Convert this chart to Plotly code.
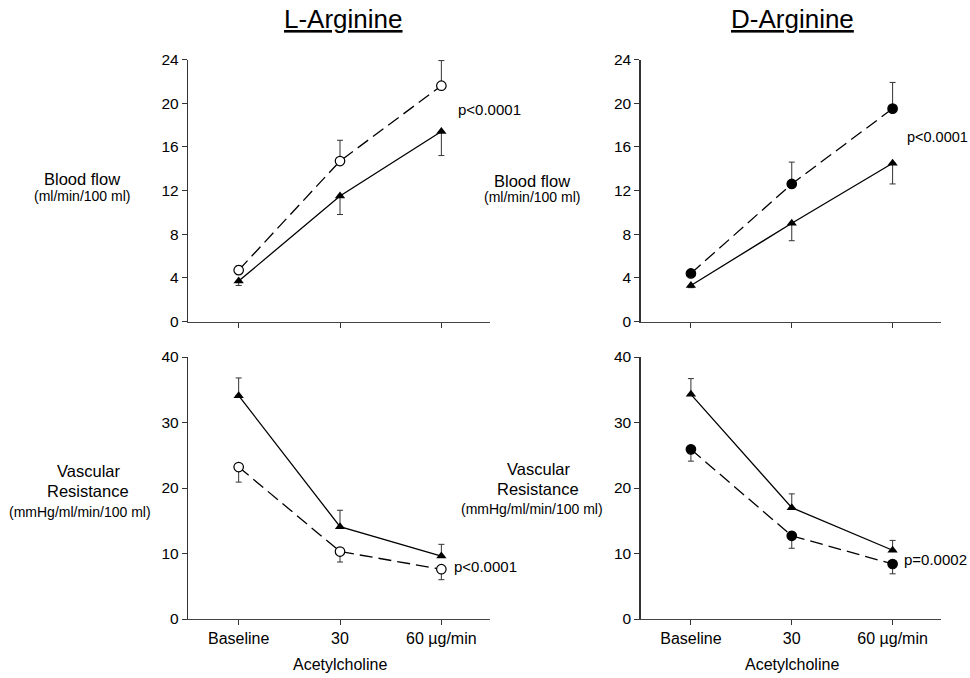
import plotly.graph_objects as go

# ---------------- data ----------------
doses = ["Baseline", "30", "60 µg/min"]

# L-Arginine, blood flow
l_bf_ach = [3.7, 11.5, 17.4]          # solid line, filled triangles
l_bf_ach_err = [0.4, 1.7, 2.2]        # error drawn downward
l_bf_arg = [4.7, 14.7, 21.6]          # dashed line, open circles
l_bf_arg_err = [0.4, 1.9, 2.3]        # error drawn upward

# D-Arginine, blood flow
d_bf_ach = [3.3, 9.0, 14.5]
d_bf_ach_err = [0.2, 1.6, 1.9]
d_bf_arg = [4.4, 12.6, 19.5]
d_bf_arg_err = [0.2, 2.0, 2.4]

# L-Arginine, vascular resistance
l_vr_ach = [34.1, 14.1, 9.6]          # error drawn upward
l_vr_ach_err = [2.7, 2.5, 1.8]
l_vr_arg = [23.2, 10.3, 7.6]          # error drawn downward
l_vr_arg_err = [2.3, 1.6, 1.6]

# D-Arginine, vascular resistance
d_vr_ach = [34.3, 17.0, 10.5]
d_vr_ach_err = [2.4, 2.1, 1.5]
d_vr_arg = [25.9, 12.7, 8.4]
d_vr_arg_err = [1.8, 1.9, 1.5]

bf_ticks = [0, 4, 8, 12, 16, 20, 24]
vr_ticks = [0, 10, 20, 30, 40]

W, H = 970, 678
OX, OY = 0, 0          # page body margin is removed below
FONT = "Arial, Liberation Sans, sans-serif"
xpos = list(range(len(doses)))


def fx(px):
    return (px - OX) / W


def fy(py):
    return 1 - (py - OY) / H


fig = go.Figure()


def add_pair(xa, ya, ach, ach_err, ach_up, arg, arg_err, arg_up, arg_open):
    zeros = [0] * len(ach)
    # solid line with triangles
    fig.add_trace(go.Scatter(
        x=xpos, y=ach, xaxis=xa, yaxis=ya, mode="lines+markers",
        line=dict(color="black", width=1.3),
        marker=dict(symbol="triangle-up", size=9, color="black"),
        error_y=dict(type="data", symmetric=False,
                     array=ach_err if ach_up else zeros,
                     arrayminus=zeros if ach_up else ach_err,
                     color="#333333", thickness=1, width=3),
        showlegend=False, hoverinfo="skip"))
    # dashed line with circles
    fig.add_trace(go.Scatter(
        x=xpos, y=arg, xaxis=xa, yaxis=ya, mode="lines+markers",
        line=dict(color="black", width=1.3, dash="13px,6px"),
        marker=dict(symbol="circle", size=9.5,
                    color="white" if arg_open else "black",
                    line=dict(color="black", width=1.2)),
        error_y=dict(type="data", symmetric=False,
                     array=arg_err if arg_up else zeros,
                     arrayminus=zeros if arg_up else arg_err,
                     color="#333333", thickness=1, width=3),
        showlegend=False, hoverinfo="skip"))


add_pair("x", "y", l_bf_ach, l_bf_ach_err, False, l_bf_arg, l_bf_arg_err, True, True)
add_pair("x2", "y2", d_bf_ach, d_bf_ach_err, False, d_bf_arg, d_bf_arg_err, True, False)
add_pair("x3", "y3", l_vr_ach, l_vr_ach_err, True, l_vr_arg, l_vr_arg_err, False, True)
add_pair("x4", "y4", d_vr_ach, d_vr_ach_err, True, d_vr_arg, d_vr_arg_err, False, False)

left_dom = [fx(188), fx(490)]
right_dom = [fx(640.5), fx(941)]
top_dom = [fy(321.5), fy(59.5)]
bot_dom = [fy(619), fy(357)]


def xaxis(dom, anchor, labels):
    return dict(domain=dom, anchor=anchor, range=[-0.5, 2.48], automargin=False,
                tickmode="array", tickvals=xpos, ticktext=doses,
                showticklabels=labels, ticks="outside", ticklen=5,
                tickcolor="#333", tickwidth=1,
                showline=True, linecolor="#444", linewidth=1.2,
                showgrid=False, zeroline=False, fixedrange=True,
                tickfont=dict(family=FONT, size=16, color="black"))


def yaxis(dom, anchor, ticks, top):
    return dict(domain=dom, anchor=anchor, range=[0, top], automargin=False,
                tickmode="array", tickvals=ticks,
                ticks="outside", ticklen=5, tickcolor="#333", tickwidth=1,
                showline=True, linecolor="#333", linewidth=1.2,
                showgrid=False, zeroline=False, fixedrange=True,
                tickfont=dict(family=FONT, size=15.5, color="black"))


fig.update_layout(
    width=W, height=H, autosize=False,
    margin=dict(l=0, r=0, t=0, b=0, pad=0, autoexpand=False),
    paper_bgcolor="white", plot_bgcolor="white",
    showlegend=False,
    font=dict(family=FONT, color="black"),
    xaxis=xaxis(left_dom, "y", False),
    yaxis=yaxis(top_dom, "x", bf_ticks, 24),
    xaxis2=xaxis(right_dom, "y2", False),
    yaxis2=yaxis(top_dom, "x2", bf_ticks, 24),
    xaxis3=xaxis(left_dom, "y3", True),
    yaxis3=yaxis(bot_dom, "x3", vr_ticks, 40),
    xaxis4=xaxis(right_dom, "y4", True),
    yaxis4=yaxis(bot_dom, "x4", vr_ticks, 40),
)


def ann(text, px, py, size, xanchor="center"):
    fig.add_annotation(text=text, xref="paper", yref="paper",
                       x=fx(px), y=fy(py), xanchor=xanchor, yanchor="middle",
                       showarrow=False, font=dict(family=FONT, size=size, color="black"))


# titles
ann("<u>L-Arginine</u>", 343, 19, 26)
ann("<u>D-Arginine</u>", 792, 19, 26)

# y-axis labels
ann("Blood flow", 82, 179, 16.5)
ann("(ml/min/100 ml)", 82, 196, 14)
ann("Blood flow", 532, 181, 16.5)
ann("(ml/min/100 ml)", 532, 197, 14)
ann("Vascular", 88, 471, 16.5)
ann("Resistance", 88, 491, 16.5)
ann("(mmHg/ml/min/100 ml)", 80, 512, 14)
ann("Vascular", 538, 469, 16.5)
ann("Resistance", 538, 489, 16.5)
ann("(mmHg/ml/min/100 ml)", 532, 509, 14)

# p-values
ann("p<0.0001", 456, 109, 15, "left")
ann("p<0.0001", 905, 137, 14.5, "left")
ann("p<0.0001", 452, 566, 15, "left")
ann("p=0.0002", 902, 559, 15, "left")

# x-axis titles
ann("Acetylcholine", 340, 664, 16)
ann("Acetylcholine", 792, 664, 16)

fig.write_html("out.html",
               config={"displayModeBar": False, "staticPlot": True},
               post_script="document.body.style.margin='0';document.body.style.overflow='hidden';")
